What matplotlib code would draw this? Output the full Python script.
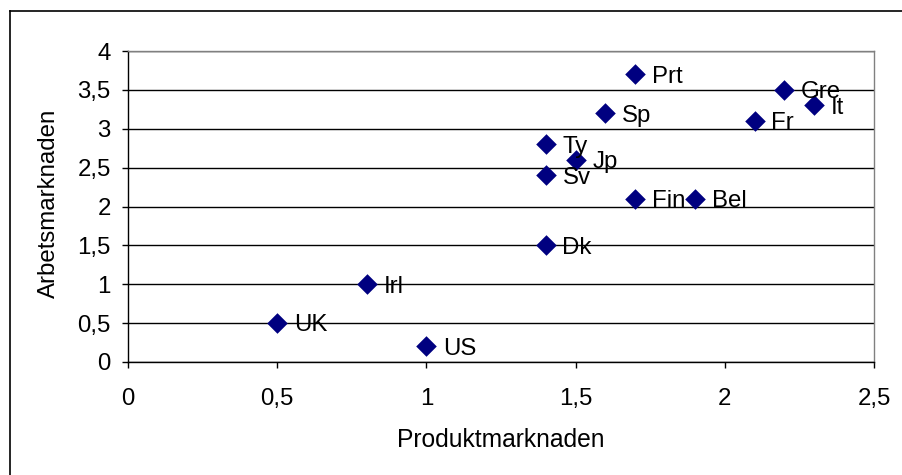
import matplotlib
matplotlib.use("Agg")
import matplotlib.pyplot as plt
from matplotlib.ticker import FuncFormatter

plt.rcParams["font.family"] = ["Liberation Sans", "DejaVu Sans"]

# Länder och index för produkt- resp. arbetsmarknadsreglering
countries = ["UK", "Irl", "US", "Dk", "Sv", "Ty", "Jp", "Sp", "Prt", "Fin", "Bel", "Fr", "Gre", "It"]
produkt = [0.5, 0.8, 1.0, 1.4, 1.4, 1.4, 1.5, 1.6, 1.7, 1.7, 1.9, 2.1, 2.2, 2.3]
arbete = [0.5, 1.0, 0.2, 1.5, 2.4, 2.8, 2.6, 3.2, 3.7, 2.1, 2.1, 3.1, 3.5, 3.3]

x_ticks = [0, 0.5, 1, 1.5, 2, 2.5]
y_ticks = [0, 0.5, 1, 1.5, 2, 2.5, 3, 3.5, 4]

FS = 17.3

fig = plt.figure(figsize=(9.03, 4.75), dpi=100)
ax = fig.add_axes([128 / 903, 1 - 362 / 475, (874 - 128) / 903, (362 - 51) / 475])

# ram runt hela diagrammet (bara vänster- och överkant syns)
fig.add_artist(plt.Line2D([10.5 / 903, 10.5 / 903], [0, 1 - 10.5 / 475], color="black", lw=1.2))
fig.add_artist(plt.Line2D([10.5 / 903, 1], [1 - 10.5 / 475, 1 - 10.5 / 475], color="black", lw=1.2))

ax.scatter(produkt, arbete, marker="D", s=110, color="#000080", zorder=3, linewidths=0)
for name, x, y in zip(countries, produkt, arbete):
    ax.annotate(name, (x, y), xytext=(12, -6), textcoords="offset points",
                va="baseline", ha="left", fontsize=FS, zorder=4)

ax.set_xlim(0, 2.5)
ax.set_ylim(0, 4)
ax.set_xticks(x_ticks)
ax.set_yticks(y_ticks)
fmt = FuncFormatter(lambda v, p: ("%g" % v).replace(".", ","))
ax.xaxis.set_major_formatter(fmt)
ax.yaxis.set_major_formatter(fmt)
ax.tick_params(direction="out", length=4.5, width=1, labelsize=FS)
ax.tick_params(axis="x", pad=14)
ax.tick_params(axis="y", pad=8)

ax.yaxis.grid(True, color="black", lw=1)
ax.set_axisbelow(True)
ax.spines["left"].set_color("black")
ax.spines["bottom"].set_color("black")
ax.spines["top"].set_color("#808080")
ax.spines["right"].set_color("#808080")
for s in ax.spines.values():
    s.set_linewidth(1)

ax.set_xlabel("Produktmarknaden", fontsize=FS + 0.4, va="center")
ax.xaxis.set_label_coords((501 - 128) / 746, (362 - 440) / 311)
ax.set_ylabel("Arbetsmarknaden", fontsize=FS, va="center")
ax.yaxis.set_label_coords((49 - 128) / 746, (362 - 203) / 311)

fig.savefig("out.png", dpi=100)
